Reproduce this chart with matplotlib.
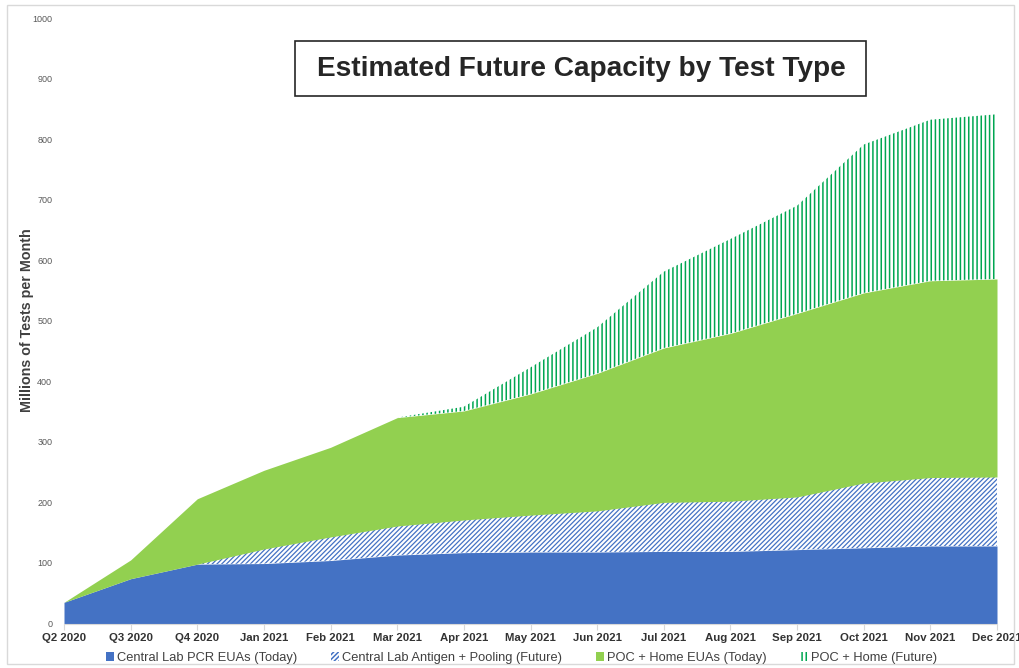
import numpy as np
import matplotlib
matplotlib.use("Agg")
import matplotlib.pyplot as plt
from matplotlib.patches import Patch, Rectangle

plt.rcParams['font.family'] = ['Liberation Sans', 'DejaVu Sans']

categories = ["Q2 2020", "Q3 2020", "Q4 2020", "Jan 2021", "Feb 2021", "Mar 2021",
              "Apr 2021", "May 2021", "Jun 2021", "Jul 2021", "Aug 2021", "Sep 2021",
              "Oct 2021", "Nov 2021", "Dec 2021"]
pcr_today = [35, 74, 98, 99, 104, 113, 117, 118, 118, 119, 119, 122, 125, 128, 128]
antigen_future = [0, 0, 0, 24, 39, 48, 54, 61, 68, 81, 83, 87, 107, 113, 114]
poc_today = [0, 31, 108, 130, 148, 179, 180, 200, 227, 255, 277, 303, 314, 325, 327]
poc_future = [0, 0, 0, 0, 0, 0, 7, 44, 76, 126, 156, 178, 245, 266, 272]
series_names = ["Central Lab PCR EUAs (Today)", "Central Lab Antigen + Pooling (Future)",
                "POC + Home EUAs (Today)", "POC + Home (Future)"]
yticks = [0, 100, 200, 300, 400, 500, 600, 700, 800, 900, 1000]

BLUE = "#4472C4"
GREEN = "#92D050"
DGREEN = "#00A651"

W, H = 1019, 668
fig = plt.figure(figsize=(W / 100, H / 100), dpi=100)
ax = fig.add_axes([64/W, 1 - 623.5/H, (997-64)/W, (623.5-18)/H])

x = np.arange(len(categories))
s1 = np.array(pcr_today, float)
s2 = s1 + np.array(antigen_future, float)
s3 = s2 + np.array(poc_today, float)
s4 = s3 + np.array(poc_future, float)

ax.fill_between(x, 0, s1, facecolor=BLUE, edgecolor=BLUE, linewidth=0)
plt.rcParams['hatch.linewidth'] = 0.9
ax.fill_between(x, s1, s2, facecolor="white", edgecolor=BLUE, hatch="///////", linewidth=0)
ax.fill_between(x, s2, s3, facecolor=GREEN, edgecolor=GREEN, linewidth=0)
plt.rcParams['hatch.linewidth'] = 1.1
ax.fill_between(x, s3, s4, facecolor="white", edgecolor=DGREEN, hatch="||||", linewidth=0)

ax.set_xlim(0, len(categories) - 1)
ax.set_ylim(0, 1000)
ax.set_xticks(x)
ax.set_xticklabels(categories, fontsize=8.2, fontweight="bold", color="#333333")
ax.set_yticks(yticks)
ax.set_yticklabels([str(v) for v in yticks], fontsize=6.5, color="#595959")
ax.tick_params(axis="y", length=0, pad=8.5)
ax.tick_params(axis="x", length=4, color="#D9D9D9", direction="out", pad=3)
for sp in ["top", "right", "left"]:
    ax.spines[sp].set_visible(False)
ax.spines["bottom"].set_color("#D9D9D9")

fig.text(27/W, 1 - 320/H, "Millions of Tests per Month", rotation=90, ha="center", va="center",
         fontsize=10.3, fontweight="bold", color="#404040")

# title box
fig.patches.append(Rectangle((295/W, 1 - 96/H), (866-295)/W, (96-41)/H, transform=fig.transFigure,
                             facecolor="white", edgecolor="#262626", linewidth=1.2, zorder=5))
fig.text(581/W, 1 - 69/H, "Estimated Future Capacity by Test Type", ha="center", va="center",
         fontsize=20.2, fontweight="bold", color="#262626", zorder=6)

handles = [Patch(facecolor=BLUE, edgecolor=BLUE, linewidth=0),
           Patch(facecolor="white", edgecolor=BLUE, hatch="///////", linewidth=0),
           Patch(facecolor=GREEN, edgecolor=GREEN, linewidth=0),
           Patch(facecolor="white", edgecolor=DGREEN, hatch="||||", linewidth=0)]
fig.legend(handles, series_names, loc="center", bbox_to_anchor=(0.512, 1 - 658/H),
           ncol=4, frameon=False, fontsize=9.3, handlelength=0.6, handleheight=0.6,
           handletextpad=0.25, columnspacing=2.6, labelcolor="#404040")

fig.patches.append(Rectangle((7/W, 4/H), (1014-7)/W, (663-4)/H, transform=fig.transFigure,
                             fill=False, edgecolor="#D9D9D9", linewidth=1))

fig.savefig("out.png", dpi=100)
